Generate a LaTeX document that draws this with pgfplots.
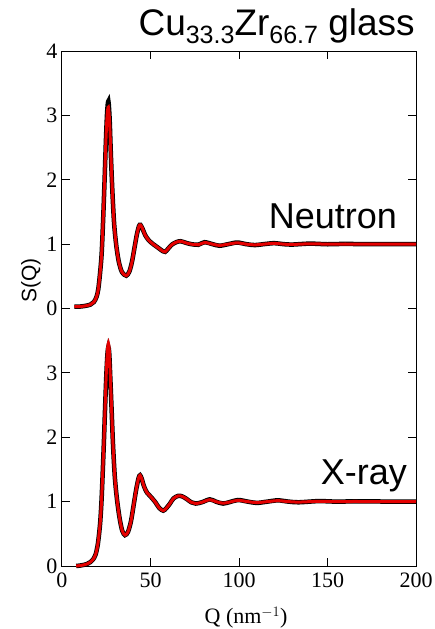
\documentclass[border=0pt]{standalone}
\usepackage{pgfplots}
\pgfplotsset{compat=1.18}
\usepackage{fontspec}
\setmainfont{Liberation Serif}
\newfontfamily\arial{Liberation Sans}
\newfontfamily\tnr{Liberation Serif}
\newcommand{\sub}[1]{\raisebox{-8pt}{\fontsize{25}{25}\selectfont #1}}
\newcommand{\tl}[1]{\mbox{\tnr\fontsize{22}{22}\selectfont #1}}
\begin{document}
\begin{tikzpicture}
\path[use as bounding box] (-62pt,-63pt) rectangle (372pt,566pt);
\begin{axis}[
  at={(0pt,0pt)}, anchor=south west,
  scale only axis, width=354pt, height=515pt,
  xmin=0, xmax=200, ymin=0, ymax=8,
  xtick={0,50,100,150,200},
  xticklabels={\tl{0},\tl{50},\tl{100},\tl{150},\tl{200}},
  ytick={0,1,2,3,4,5,6,7,8},
  yticklabels={\tl{0},\tl{1},\tl{2},\tl{3},\tl{0},\tl{1},\tl{2},\tl{3},\tl{4}},
  tick align=inside, major tick length=8pt,
  tick style={black, line width=1pt},
  axis line style={line width=1pt},
  tick label style={font=\tnr\fontsize{22}{22}\selectfont},
  xticklabel style={yshift=-3pt},
  yticklabel style={xshift=-1pt},
  xlabel={Q (nm$^{-1}$)},
  xlabel style={font=\tnr\fontsize{22}{22}\selectfont, at={(axis description cs:0.52,-0.1)}, anchor=center},
  ylabel={S(Q)},
  ylabel style={font=\arial\fontsize{21}{21}\selectfont, at={(axis description cs:-0.088,0.555)}, anchor=center},
  clip=false,
]
% Neutron (offset by 4)
\addplot[black, line width=4.5pt, smooth, tension=0.5, y filter/.code={\pgfmathparse{\pgfmathresult+4}}] coordinates {
(7,0.03) (10,0.03) (13,0.04) (16,0.06) (18,0.1) (19.5,0.18) (20.5,0.3) (21.5,0.55) (22.4,0.85) (23.2,1.35) (24,1.95) (24.8,2.6) (25.5,3.05) (26.2,3.22) (26.9,2.95) (27.6,2.4) (28.5,1.8) (29.5,1.3) (30.8,0.95) (32.3,0.7) (34,0.56) (36.3,0.51) (38,0.57) (39.5,0.72) (41,0.95) (42.3,1.15) (43.5,1.28) (44.3,1.3) (45.5,1.24) (47,1.14) (49,1.06) (51.5,1.0) (54.5,0.94) (57,0.89) (58.3,0.88) (60,0.93) (62,0.99) (64.5,1.03) (67,1.045) (70,1.02) (73,1.0) (77,0.99) (80.5,1.03) (85,1.0) (89,0.975) (94,1.0) (99,1.025) (104,1.0) (109,0.985) (114,1.0) (120,1.015) (125,1.0) (130,0.993) (140,1.008) (150,0.998) (160,1.004) (170,1.0) (200,1.0)
};
\addplot[red!90!black, line width=3pt, smooth, tension=0.5, y filter/.code={\pgfmathparse{\pgfmathresult+4}}] coordinates {
(7,0.03) (10,0.03) (13,0.04) (16,0.06) (18,0.1) (19.5,0.18) (20.5,0.3) (21.5,0.55) (22.4,0.85) (23.2,1.35) (24,1.95) (24.8,2.6) (25.5,3.0) (26.2,3.13) (26.9,2.9) (27.6,2.4) (28.5,1.8) (29.5,1.3) (30.8,0.95) (32.3,0.7) (34,0.56) (36.3,0.51) (38,0.57) (39.5,0.72) (41,0.95) (42.3,1.15) (43.5,1.28) (44.3,1.3) (45.5,1.24) (47,1.14) (49,1.06) (51.5,1.0) (54.5,0.94) (57,0.89) (58.3,0.88) (60,0.93) (62,0.99) (64.5,1.03) (67,1.045) (70,1.02) (73,1.0) (77,0.99) (80.5,1.025) (85,1.0) (89,0.98) (94,1.0) (99,1.02) (104,1.0) (109,0.988) (114,1.0) (120,1.012) (125,1.0) (130,0.995) (140,1.005) (150,1.0) (160,1.002) (170,1.0) (200,1.0)
};
% X-ray
\addplot[black, line width=4.5pt, smooth, tension=0.5] coordinates {
(8,0.0) (11,0.01) (14,0.03) (16,0.06) (17.5,0.1) (19,0.18) (20.3,0.35) (21.5,0.65) (22.3,1.0) (23,1.45) (23.7,1.95) (24.4,2.5) (25.1,3.0) (25.7,3.3) (26.2,3.4) (26.7,3.3) (27.3,2.92) (28,2.45) (28.8,1.9) (29.8,1.4) (31,1.05) (32.5,0.75) (34,0.55) (35.6,0.48) (37.3,0.53) (39,0.7) (40.5,0.95) (42,1.2) (43.3,1.37) (44.1,1.41) (45,1.36) (46.3,1.24) (48,1.14) (50,1.08) (52.5,1.0) (55,0.9) (57.2,0.86) (59,0.9) (61,0.97) (63,1.05) (65.7,1.09) (68,1.08) (70.5,1.04) (73,0.99) (75.5,0.97) (79,0.99) (83.5,1.035) (87,1.0) (91,0.97) (95,0.995) (99.5,1.025) (105,1.0) (110,0.98) (116,1.0) (122,1.02) (128,1.0) (134,0.99) (145,1.008) (155,1.0) (165,1.003) (200,1.0)
};
\addplot[red!90!black, line width=3pt, smooth, tension=0.5] coordinates {
(8,0.0) (11,0.01) (14,0.03) (16,0.06) (17.5,0.1) (19,0.18) (20.3,0.35) (21.5,0.65) (22.3,1.0) (23,1.45) (23.7,1.95) (24.4,2.5) (25.1,3.05) (25.7,3.35) (26.2,3.46) (26.7,3.35) (27.3,2.95) (28,2.45) (28.8,1.9) (29.8,1.4) (31,1.05) (32.5,0.75) (34,0.55) (35.6,0.48) (37.3,0.53) (39,0.7) (40.5,0.95) (42,1.2) (43.3,1.37) (44.1,1.41) (45,1.36) (46.3,1.24) (48,1.14) (50,1.08) (52.5,1.0) (55,0.9) (57.2,0.86) (59,0.9) (61,0.97) (63,1.05) (65.7,1.09) (68,1.08) (70.5,1.04) (73,0.99) (75.5,0.97) (79,0.99) (83.5,1.03) (87,1.0) (91,0.975) (95,0.995) (99.5,1.02) (105,1.0) (110,0.985) (116,1.0) (122,1.015) (128,1.0) (134,0.993) (145,1.005) (155,1.0) (165,1.002) (200,1.0)
};
\node[anchor=base east, inner sep=0pt, font=\arial\fontsize{37}{37}\selectfont] at (axis cs:199.4,8.245) {Cu\sub{33.3}Zr\sub{66.7} glass};
\node[anchor=base east, inner sep=0pt, font=\arial\fontsize{36}{36}\selectfont] at (axis cs:189.3,5.25) {Neutron};
\node[anchor=base east, inner sep=0pt, font=\arial\fontsize{36}{36}\selectfont] at (axis cs:194.9,1.27) {X-ray};
\end{axis}
\end{tikzpicture}
\end{document}
